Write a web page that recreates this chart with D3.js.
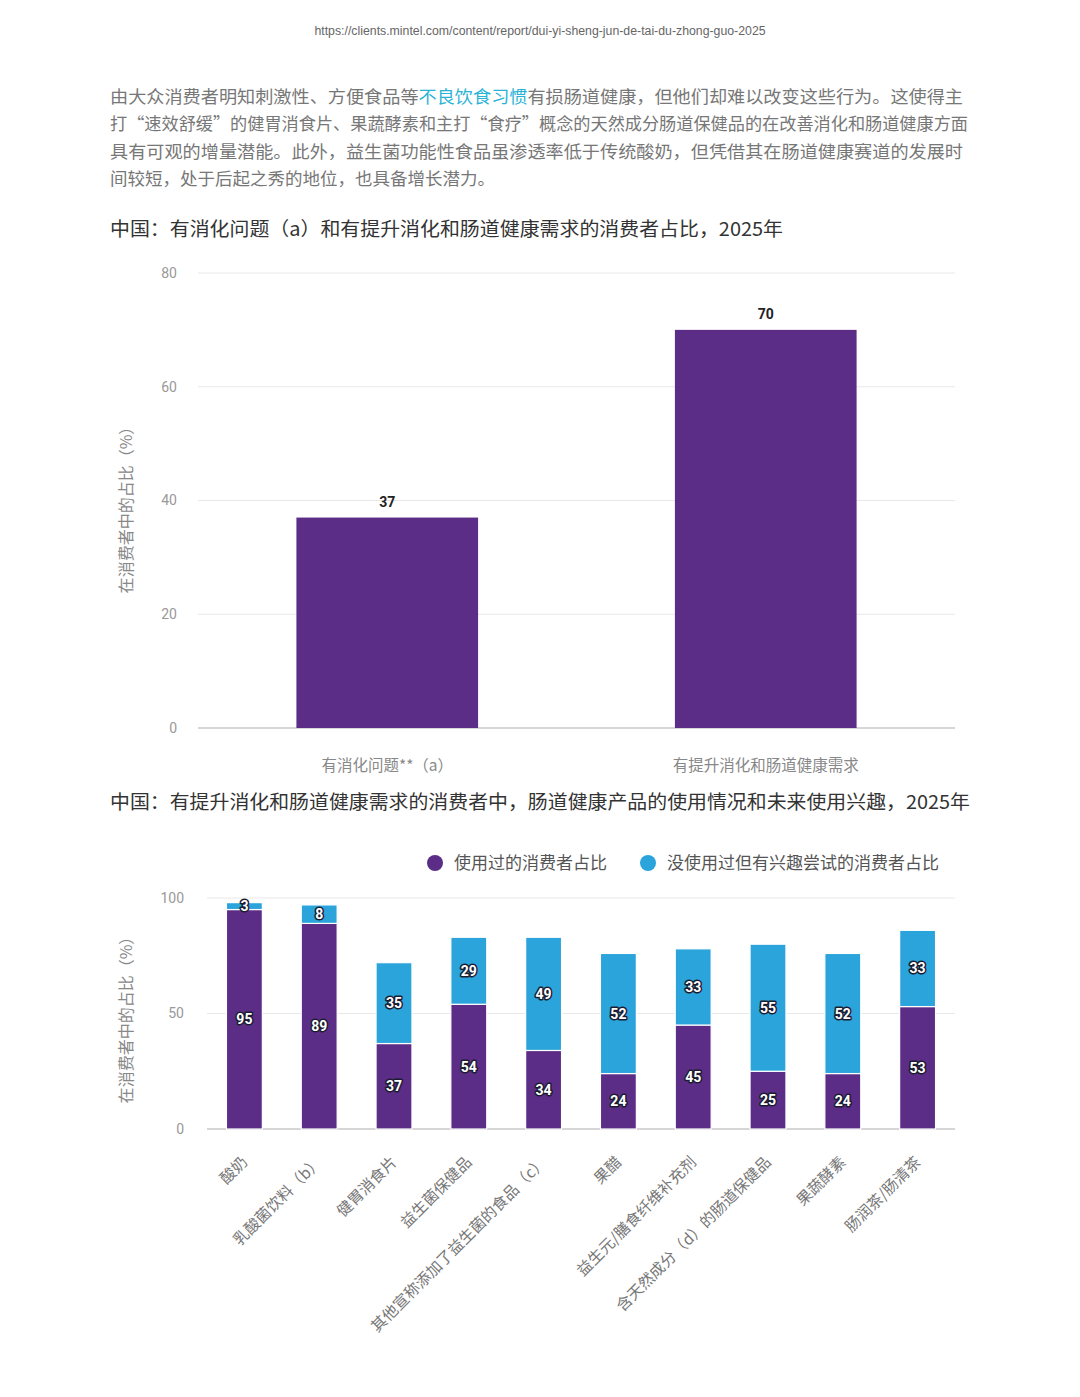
<!DOCTYPE html>
<html>
<head>
<meta charset="utf-8">
<script src="https://cdn.jsdelivr.net/npm/d3@7"></script>
<style>
  body { margin: 0; background: #fff; }
  svg { display: block; }
  text { font-family: "Noto Sans CJK SC", "Noto Sans", sans-serif; }
</style>
</head>
<body>
<div id="page"></div>
<script>
// page text
const sourceUrl = "https://clients.mintel.com/content/report/dui-yi-sheng-jun-de-tai-du-zhong-guo-2025";
const introLines = [
    [["由大众消费者明知刺激性、方便食品等", false], ["不良饮食习惯", true], ["有损肠道健康，但他们却难以改变这些行为。这使得主", false]],
    [["打“速效舒缓”的健胃消食片、果蔬酵素和主打“食疗”概念的天然成分肠道保健品的在改善消化和肠道健康方面", false]],
    [["具有可观的增量潜能。此外，益生菌功能性食品虽渗透率低于传统酸奶，但凭借其在肠道健康赛道的发展时", false]],
    [["间较短，处于后起之秀的地位，也具备增长潜力。", false]]
];
const title1 = "中国：有消化问题（a）和有提升消化和肠道健康需求的消费者占比，2025年";
const title2 = "中国：有提升消化和肠道健康需求的消费者中，肠道健康产品的使用情况和未来使用兴趣，2025年";
const yAxisTitle = "在消费者中的占比（%）";

// chart 1
const needCategories = ["有消化问题**（a）", "有提升消化和肠道健康需求"];
const needValues = [37, 70];
const needTicks = [0, 20, 40, 60, 80];

// chart 2
const productCategories = ["酸奶", "乳酸菌饮料（b）", "健胃消食片", "益生菌保健品", "其他宣称添加了益生菌的食品（c）",
    "果醋", "益生元/膳食纤维补充剂", "含天然成分（d）的肠道保健品", "果蔬酵素", "肠润茶/肠清茶"];
const usedValues = [95, 89, 37, 54, 34, 24, 45, 25, 24, 53];
const interestedValues = [3, 8, 35, 29, 49, 52, 33, 55, 52, 33];
const productTicks = [0, 50, 100];
const seriesNames = ["使用过的消费者占比", "没使用过但有兴趣尝试的消费者占比"];

const purple = "#5b2d87";
const cyan = "#2ba3db";

const svg = d3.select("#page").append("svg")
    .attr("width", 1080)
    .attr("height", 1397);

// header + paragraph
svg.append("text")
    .attr("x", 540).attr("y", 35)
    .attr("text-anchor", "middle")
    .style("font-family", "'Liberation Sans', Arial, sans-serif")
    .style("font-size", "12.3px")
    .attr("fill", "#666")
    .text(sourceUrl);

const lineWidths = [853, 858, 853, null];
introLines.forEach((parts, i) => {
    const t = svg.append("text")
        .attr("x", 110).attr("y", 103 + i * 27.3)
        .style("font-size", "17.5px")
        .attr("fill", "#777");
    if (lineWidths[i]) t.attr("textLength", lineWidths[i]).attr("lengthAdjust", "spacingAndGlyphs");
    parts.forEach(p => {
        t.append("tspan").attr("fill", p[1] ? "#2bb3d6" : "#777").text(p[0]);
    });
});

function addTitle(text, y, width) {
    svg.append("text")
        .attr("x", 110).attr("y", y)
        .attr("textLength", width)
        .attr("lengthAdjust", "spacingAndGlyphs")
        .style("font-size", "19px")
        .attr("fill", "#333")
        .text(text);
}
addTitle(title1, 236, 673);
addTitle(title2, 809, 860);

function addYTitle(cy) {
    svg.append("text")
        .attr("transform", `translate(132,${cy}) rotate(-90)`)
        .attr("text-anchor", "middle")
        .style("font-size", "16px")
        .attr("fill", "#888")
        .text(yAxisTitle);
}

function addGrid(y, ticks, x0, x1, labelX) {
    const g = svg.append("g");
    g.selectAll("line").data(ticks).join("line")
        .attr("x1", x0).attr("x2", x1)
        .attr("y1", d => y(d)).attr("y2", d => y(d))
        .attr("stroke", d => d === 0 ? "#c8c8c8" : "#e8e8e8")
        .attr("stroke-width", d => d === 0 ? 1.5 : 1);
    g.selectAll("text").data(ticks).join("text")
        .attr("x", labelX).attr("y", d => y(d))
        .attr("dy", "0.35em")
        .attr("text-anchor", "end")
        .style("font-family", "Roboto, sans-serif")
        .style("font-size", "14px")
        .attr("fill", "#999")
        .text(d => d);
}

// ---- chart 1
const x1 = d3.scaleBand().domain(needCategories).range([198, 955])
    .paddingInner(0.52).paddingOuter(0.26);
const y1 = d3.scaleLinear().domain([0, 80]).range([728, 273]);

addGrid(y1, needTicks, 198, 955, 177);
addYTitle(506);

svg.append("g").selectAll("rect")
    .data(needCategories).join("rect")
    .attr("x", d => x1(d))
    .attr("width", x1.bandwidth())
    .attr("y", (d, i) => y1(needValues[i]))
    .attr("height", (d, i) => y1(0) - y1(needValues[i]))
    .attr("fill", purple);

svg.append("g").selectAll("text")
    .data(needCategories).join("text")
    .attr("x", d => x1(d) + x1.bandwidth() / 2)
    .attr("y", (d, i) => y1(needValues[i]) - 11)
    .attr("text-anchor", "middle")
    .style("font-family", "Roboto, sans-serif")
    .style("font-weight", "bold")
    .style("font-size", "14px")
    .attr("fill", "#222")
    .text((d, i) => needValues[i]);

svg.append("g").selectAll("text")
    .data(needCategories).join("text")
    .attr("x", d => x1(d) + x1.bandwidth() / 2)
    .attr("y", 771)
    .attr("text-anchor", "middle")
    .style("font-size", "15.5px")
    .attr("fill", "#888")
    .text(d => d);

// ---- chart 2
const x2 = d3.scaleBand().domain(productCategories).range([207, 955])
    .paddingInner(0.52).paddingOuter(0.26);
const y2 = d3.scaleLinear().domain([0, 100]).range([1129, 898]);

addGrid(y2, productTicks, 207, 955, 184);
addYTitle(1016);

// legend
const legend = svg.append("g");
const legendX = [435, 648];
seriesNames.forEach((name, i) => {
    legend.append("circle")
        .attr("cx", legendX[i]).attr("cy", 863).attr("r", 8)
        .attr("fill", i === 0 ? purple : cyan);
    legend.append("text")
        .attr("x", legendX[i] + 19).attr("y", 863)
        .attr("dy", "0.36em")
        .style("font-size", "17px")
        .attr("fill", "#555")
        .text(name);
});

const stackRows = productCategories.map((c, i) => ({ cat: c, used: usedValues[i], interested: interestedValues[i] }));
const stacked = d3.stack().keys(["used", "interested"])(stackRows);

const layers = svg.append("g").selectAll("g")
    .data(stacked).join("g")
    .attr("fill", (d, i) => i === 0 ? purple : cyan);

layers.selectAll("rect")
    .data(d => d).join("rect")
    .attr("x", d => x2(d.data.cat))
    .attr("width", x2.bandwidth())
    .attr("y", d => y2(d[1]))
    .attr("height", d => y2(d[0]) - y2(d[1]))
    .attr("stroke", "#fff")
    .attr("stroke-width", 1.2);

stacked.forEach(layer => {
    svg.append("g").selectAll("text")
        .data(layer).join("text")
        .attr("x", d => x2(d.data.cat) + x2.bandwidth() / 2)
        .attr("y", d => y2((d[0] + d[1]) / 2))
        .attr("dy", "0.36em")
        .attr("text-anchor", "middle")
        .style("font-family", "Roboto, sans-serif")
        .style("font-weight", "bold")
        .style("font-size", "14px")
        .attr("fill", "#fff")
        .attr("stroke", "#1c1c30")
        .attr("stroke-width", 3)
        .attr("paint-order", "stroke")
        .attr("stroke-linejoin", "round")
        .text(d => d[1] - d[0]);
});

// rotated category labels
svg.append("g").selectAll("text")
    .data(productCategories).join("text")
    .attr("transform", d => `translate(${x2(d) + x2.bandwidth() / 2 + 4},${1163}) rotate(-45)`)
    .attr("text-anchor", "end")
    .style("font-size", "15.5px")
    .attr("fill", "#777")
    .text(d => d);
</script>
</body>
</html>
